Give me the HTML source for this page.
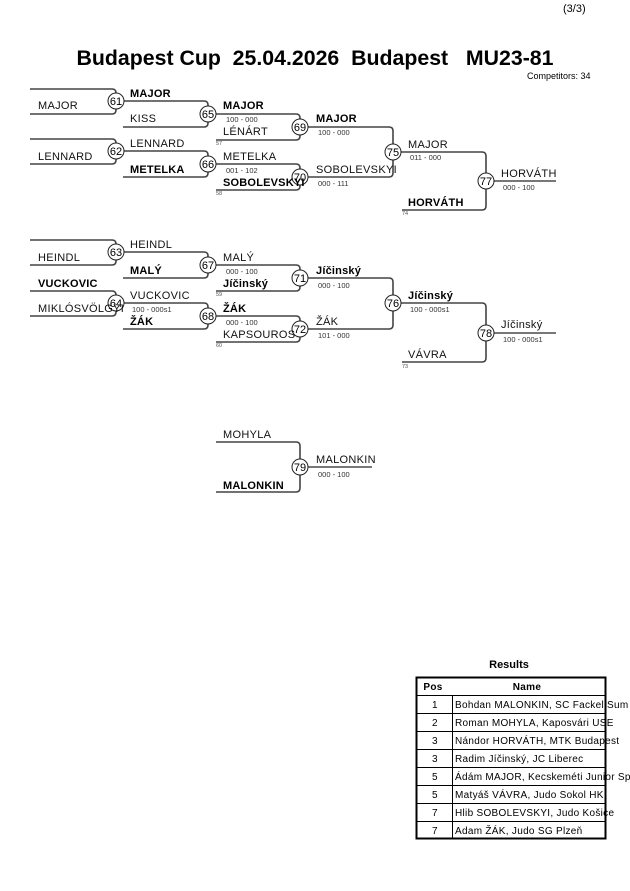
<!DOCTYPE html>
<html><head><meta charset="utf-8"><style>
body{margin:0;background:#fff;width:630px;height:891px;overflow:hidden}
svg{display:block;font-family:"Liberation Sans",sans-serif}
.n{font-size:11px;letter-spacing:0.3px;fill:#111}
.b{font-size:11px;font-weight:bold;letter-spacing:0.2px;fill:#000}
.s{font-size:7.5px;fill:#333}
.t{font-size:5.5px;fill:#555}
.br{fill:none;stroke:#444;stroke-width:1.6}
.c{fill:#fff;stroke:#222;stroke-width:1}
.cn{font-size:11px;text-anchor:middle;fill:#000}
.r{font-size:10px;fill:#000;letter-spacing:0.3px}
</style></head><body>
<svg width="630" height="891" viewBox="0 0 630 891">
<text x="563" y="12" font-size="11">(3/3)</text>
<text x="315" y="65" font-size="21.3" font-weight="bold" text-anchor="middle" xml:space="preserve">Budapest Cup  25.04.2026  Budapest   MU23-81</text>
<text x="527" y="79" font-size="9">Competitors: 34</text>

<g class="br">
<path d="M30,89H112Q116,89 116,93V110Q116,114 112,114H30"/>
<path d="M30,139H112Q116,139 116,143V160Q116,164 112,164H30"/>
<path d="M30,240H112Q116,240 116,244V261Q116,265 112,265H30"/>
<path d="M30,291H112Q116,291 116,295V312Q116,316 112,316H30"/>
<path d="M124,101H204Q208,101 208,105V123Q208,127 204,127H123"/>
<path d="M124,151H204Q208,151 208,155V173Q208,177 204,177H123"/>
<path d="M124,252H204Q208,252 208,256V274Q208,278 204,278H123"/>
<path d="M124,303H204Q208,303 208,307V325Q208,329 204,329H123"/>
<path d="M216,114H296Q300,114 300,118V136Q300,140 296,140H216"/>
<path d="M216,164H296Q300,164 300,168V186Q300,190 296,190H216"/>
<path d="M216,265H296Q300,265 300,269V287Q300,291 296,291H216"/>
<path d="M216,316H296Q300,316 300,320V338Q300,342 296,342H216"/>
<path d="M308,127H389Q393,127 393,131V173Q393,177 389,177H308"/>
<path d="M308,278H389Q393,278 393,282V325Q393,329 389,329H308"/>
<path d="M401,152H482Q486,152 486,156V206Q486,210 482,210H402"/>
<path d="M401,303H482Q486,303 486,307V358Q486,362 482,362H402"/>
<path d="M216,442H296Q300,442 300,446V488Q300,492 296,492H216"/>
<path d="M494,181H556M494,333H556M308,467H372" stroke="#777" stroke-width="2"/>
</g>
<g>
<circle class="c" cx="116" cy="101" r="8"/><text class="cn" x="116" y="105">61</text>
<circle class="c" cx="116" cy="151" r="8"/><text class="cn" x="116" y="155">62</text>
<circle class="c" cx="116" cy="252" r="8"/><text class="cn" x="116" y="256">63</text>
<circle class="c" cx="116" cy="303" r="8"/><text class="cn" x="116" y="307">64</text>
<circle class="c" cx="208" cy="114" r="8"/><text class="cn" x="208" y="118">65</text>
<circle class="c" cx="208" cy="164" r="8"/><text class="cn" x="208" y="168">66</text>
<circle class="c" cx="208" cy="265" r="8"/><text class="cn" x="208" y="269">67</text>
<circle class="c" cx="208" cy="316" r="8"/><text class="cn" x="208" y="320">68</text>
<circle class="c" cx="300" cy="127" r="8"/><text class="cn" x="300" y="131">69</text>
<circle class="c" cx="300" cy="177" r="8"/><text class="cn" x="300" y="181">70</text>
<circle class="c" cx="300" cy="278" r="8"/><text class="cn" x="300" y="282">71</text>
<circle class="c" cx="300" cy="329" r="8"/><text class="cn" x="300" y="333">72</text>
<circle class="c" cx="393" cy="152" r="8"/><text class="cn" x="393" y="156">75</text>
<circle class="c" cx="393" cy="303" r="8"/><text class="cn" x="393" y="307">76</text>
<circle class="c" cx="486" cy="181" r="8"/><text class="cn" x="486" y="185">77</text>
<circle class="c" cx="486" cy="333" r="8"/><text class="cn" x="486" y="337">78</text>
<circle class="c" cx="300" cy="467" r="8"/><text class="cn" x="300" y="471">79</text>
</g>

<text class="n" x="38" y="109">MAJOR</text>
<text class="b" x="130" y="97">MAJOR</text>
<text class="n" x="130" y="122">KISS</text>
<text class="n" x="38" y="160">LENNARD</text>
<text class="n" x="130" y="147">LENNARD</text>
<text class="b" x="130" y="173">METELKA</text>
<text class="b" x="223" y="109">MAJOR</text>
<text class="s" x="226" y="122">100 - 000</text>
<text class="n" x="223" y="135">LÉNÁRT</text>
<text class="n" x="223" y="160">METELKA</text>
<text class="s" x="226" y="173">001 - 102</text>
<text class="b" x="223" y="186">SOBOLEVSKYI</text>
<text class="b" x="316" y="122">MAJOR</text>
<text class="s" x="318" y="135">100 - 000</text>
<text class="n" x="316" y="173">SOBOLEVSKYI</text>
<text class="s" x="318" y="186">000 - 111</text>
<text class="n" x="408" y="148">MAJOR</text>
<text class="s" x="410" y="160">011 - 000</text>
<text class="b" x="408" y="206">HORVÁTH</text>
<text class="n" x="501" y="177">HORVÁTH</text>
<text class="s" x="503" y="190">000 - 100</text>
<text class="t" x="216" y="145">57</text>
<text class="t" x="216" y="195">58</text>
<text class="t" x="402" y="215">74</text>

<text class="n" x="38" y="261">HEINDL</text>
<text class="n" x="130" y="248">HEINDL</text>
<text class="b" x="38" y="287">VUCKOVIC</text>
<text class="n" x="38" y="312">MIKLÓSVÖLGYI</text>
<text class="b" x="130" y="274">MALÝ</text>
<text class="n" x="130" y="299">VUCKOVIC</text>
<text class="s" x="132" y="312">100 - 000s1</text>
<text class="b" x="130" y="325">ŽÁK</text>
<text class="n" x="223" y="261">MALÝ</text>
<text class="s" x="226" y="274">000 - 100</text>
<text class="b" x="223" y="287">Jíčinský</text>
<text class="b" x="223" y="312">ŽÁK</text>
<text class="s" x="226" y="325">000 - 100</text>
<text class="n" x="223" y="338">KAPSOUROS</text>
<text class="b" x="316" y="274">Jíčinský</text>
<text class="s" x="318" y="288">000 - 100</text>
<text class="n" x="316" y="325">ŽÁK</text>
<text class="s" x="318" y="338">101 - 000</text>
<text class="b" x="408" y="299">Jíčinský</text>
<text class="s" x="410" y="312">100 - 000s1</text>
<text class="n" x="408" y="358">VÁVRA</text>
<text class="n" x="501" y="328">Jíčinský</text>
<text class="s" x="503" y="342">100 - 000s1</text>
<text class="t" x="216" y="296">59</text>
<text class="t" x="216" y="347">60</text>
<text class="t" x="402" y="368">73</text>

<text class="n" x="223" y="438">MOHYLA</text>
<text class="b" x="223" y="489">MALONKIN</text>
<text class="n" x="316" y="463">MALONKIN</text>
<text class="s" x="318" y="477">000 - 100</text>

<text x="509" y="668" font-size="11" font-weight="bold" text-anchor="middle">Results</text>
<g fill="none" stroke="#000">
<rect x="416.5" y="677.5" width="189" height="161" stroke-width="2"/>
<path d="M452.5,695V838M416,695.5H605M416,713.5H605M416,731.5H605M416,749.5H605M416,767.5H605M416,785.5H605M416,803.5H605M416,821.5H605" stroke-width="1"/>
</g>
<text class="r" x="433" y="690" font-weight="bold" text-anchor="middle">Pos</text>
<text class="r" x="527" y="690" font-weight="bold" text-anchor="middle">Name</text>
<g class="r">
<text x="432" y="708">1</text><text x="455" y="708">Bohdan MALONKIN, SC Fackel Sum</text>
<text x="432" y="726">2</text><text x="455" y="726">Roman MOHYLA, Kaposvári USE</text>
<text x="432" y="744">3</text><text x="455" y="744">Nándor HORVÁTH, MTK Budapest</text>
<text x="432" y="762">3</text><text x="455" y="762">Radim Jíčinský, JC Liberec</text>
<text x="432" y="780">5</text><text x="455" y="780">Ádám MAJOR, Kecskeméti Junior Sp</text>
<text x="432" y="798">5</text><text x="455" y="798">Matyáš VÁVRA, Judo Sokol HK</text>
<text x="432" y="816">7</text><text x="455" y="816">Hlib SOBOLEVSKYI, Judo Košice</text>
<text x="432" y="834">7</text><text x="455" y="834">Adam ŽÁK, Judo SG Plzeň</text>
</g>
</svg>
</body></html>
